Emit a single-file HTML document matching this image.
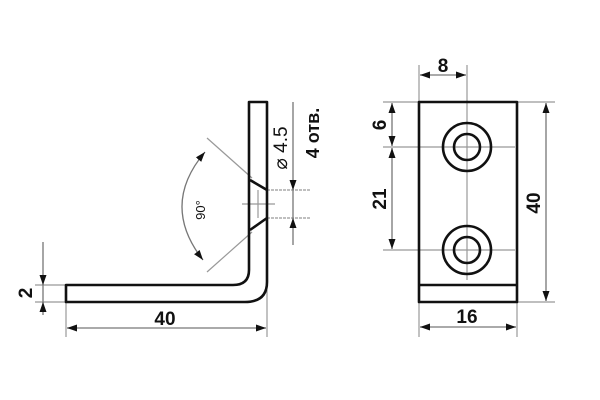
<!DOCTYPE html>
<html><head><meta charset="utf-8"><style>body{margin:0;background:#fff}svg{display:block}</style></head>
<body>
<svg width="600" height="400" viewBox="0 0 600 400" xmlns="http://www.w3.org/2000/svg" font-family="Liberation Sans, Arial, sans-serif" font-weight="bold">
<defs>
<marker id="a" viewBox="0 0 10 10" refX="10" refY="5" markerWidth="10" markerHeight="10" markerUnits="userSpaceOnUse" orient="auto-start-reverse"><path d="M0,1.5 L10,5 L0,8.5 Z" fill="#111"/></marker>
</defs>
<g fill="none" stroke="#999" stroke-width="1.2">
<line x1="35" y1="285" x2="66" y2="285"/><line x1="35" y1="302" x2="66" y2="302"/>
<line x1="66" y1="302" x2="66" y2="337"/><line x1="267" y1="290" x2="267" y2="337"/>
<line x1="207" y1="138" x2="252" y2="178"/><line x1="207" y1="272" x2="252" y2="232"/>
<line x1="242" y1="204" x2="275" y2="204"/><line x1="258" y1="190" x2="258" y2="218"/>
<line x1="267" y1="190" x2="310" y2="190" stroke-dasharray="3,1"/><line x1="267" y1="218" x2="310" y2="218" stroke-dasharray="3,1"/>
<line x1="383" y1="102" x2="555" y2="102"/><line x1="383" y1="147" x2="515" y2="147"/>
<line x1="383" y1="250" x2="515" y2="250"/><line x1="517" y1="302" x2="555" y2="302"/>
<line x1="419" y1="65" x2="419" y2="102"/><line x1="467" y1="65" x2="467" y2="280"/>
<line x1="419" y1="302" x2="419" y2="337"/><line x1="517" y1="302" x2="517" y2="337"/>
</g>
<g fill="none" stroke="#777" stroke-width="1.3">
<line x1="43" y1="242" x2="43" y2="285" marker-end="url(#a)"/>
<line x1="43" y1="315" x2="43" y2="302" marker-end="url(#a)"/>
<line x1="43" y1="285" x2="43" y2="302"/>
<line x1="67" y1="328" x2="266" y2="328" marker-start="url(#a)" marker-end="url(#a)"/>
<path d="M205,152 Q160,205 203,260" marker-start="url(#a)" marker-end="url(#a)"/>
<line x1="293" y1="102" x2="293" y2="190" marker-end="url(#a)"/>
<line x1="293" y1="245" x2="293" y2="218" marker-end="url(#a)"/>
<line x1="293" y1="190" x2="293" y2="218"/>
<line x1="420" y1="75" x2="466" y2="75" marker-start="url(#a)" marker-end="url(#a)"/>
<line x1="392" y1="103" x2="392" y2="146" marker-start="url(#a)" marker-end="url(#a)"/>
<line x1="392" y1="148" x2="392" y2="249" marker-start="url(#a)" marker-end="url(#a)"/>
<line x1="546" y1="103" x2="546" y2="301" marker-start="url(#a)" marker-end="url(#a)"/>
<line x1="420" y1="327" x2="516" y2="327" marker-start="url(#a)" marker-end="url(#a)"/>
</g>
<g fill="none" stroke="#111" stroke-width="2.6" stroke-linejoin="round">
<path d="M66,285 L233,285 Q249,285 249,270 L249,102 L267,102 L267,282 Q267,302 245,302 L66,302 Z"/>
<path d="M250,180 L267,190 M267,218 L250,230"/>
<rect x="419" y="102" width="98" height="200"/>
<line x1="419" y1="285" x2="517" y2="285"/>
<circle cx="467" cy="147" r="24"/><circle cx="467" cy="147" r="13"/>
<circle cx="467" cy="250" r="24"/><circle cx="467" cy="250" r="13"/>
</g>
<g fill="#111" font-size="19">
<text x="165" y="325" text-anchor="middle">40</text>
<text x="443" y="72" text-anchor="middle">8</text>
<text x="467" y="323" text-anchor="middle">16</text>
<text transform="translate(32,293) rotate(-90)" text-anchor="middle">2</text>
<text transform="translate(386,125) rotate(-90)" text-anchor="middle">6</text>
<text transform="translate(386,199) rotate(-90)" text-anchor="middle">21</text>
<text transform="translate(540,203) rotate(-90)" text-anchor="middle">40</text>
<text transform="translate(287,148) rotate(-90)" text-anchor="middle" font-weight="normal">⌀ 4.5</text>
<text transform="translate(319,133) rotate(-90)" text-anchor="middle" font-size="18">4 отв.</text>
<text transform="translate(205,210) rotate(-90)" text-anchor="middle" font-size="13" font-weight="normal">90°</text>
</g>
</svg>
</body></html>
